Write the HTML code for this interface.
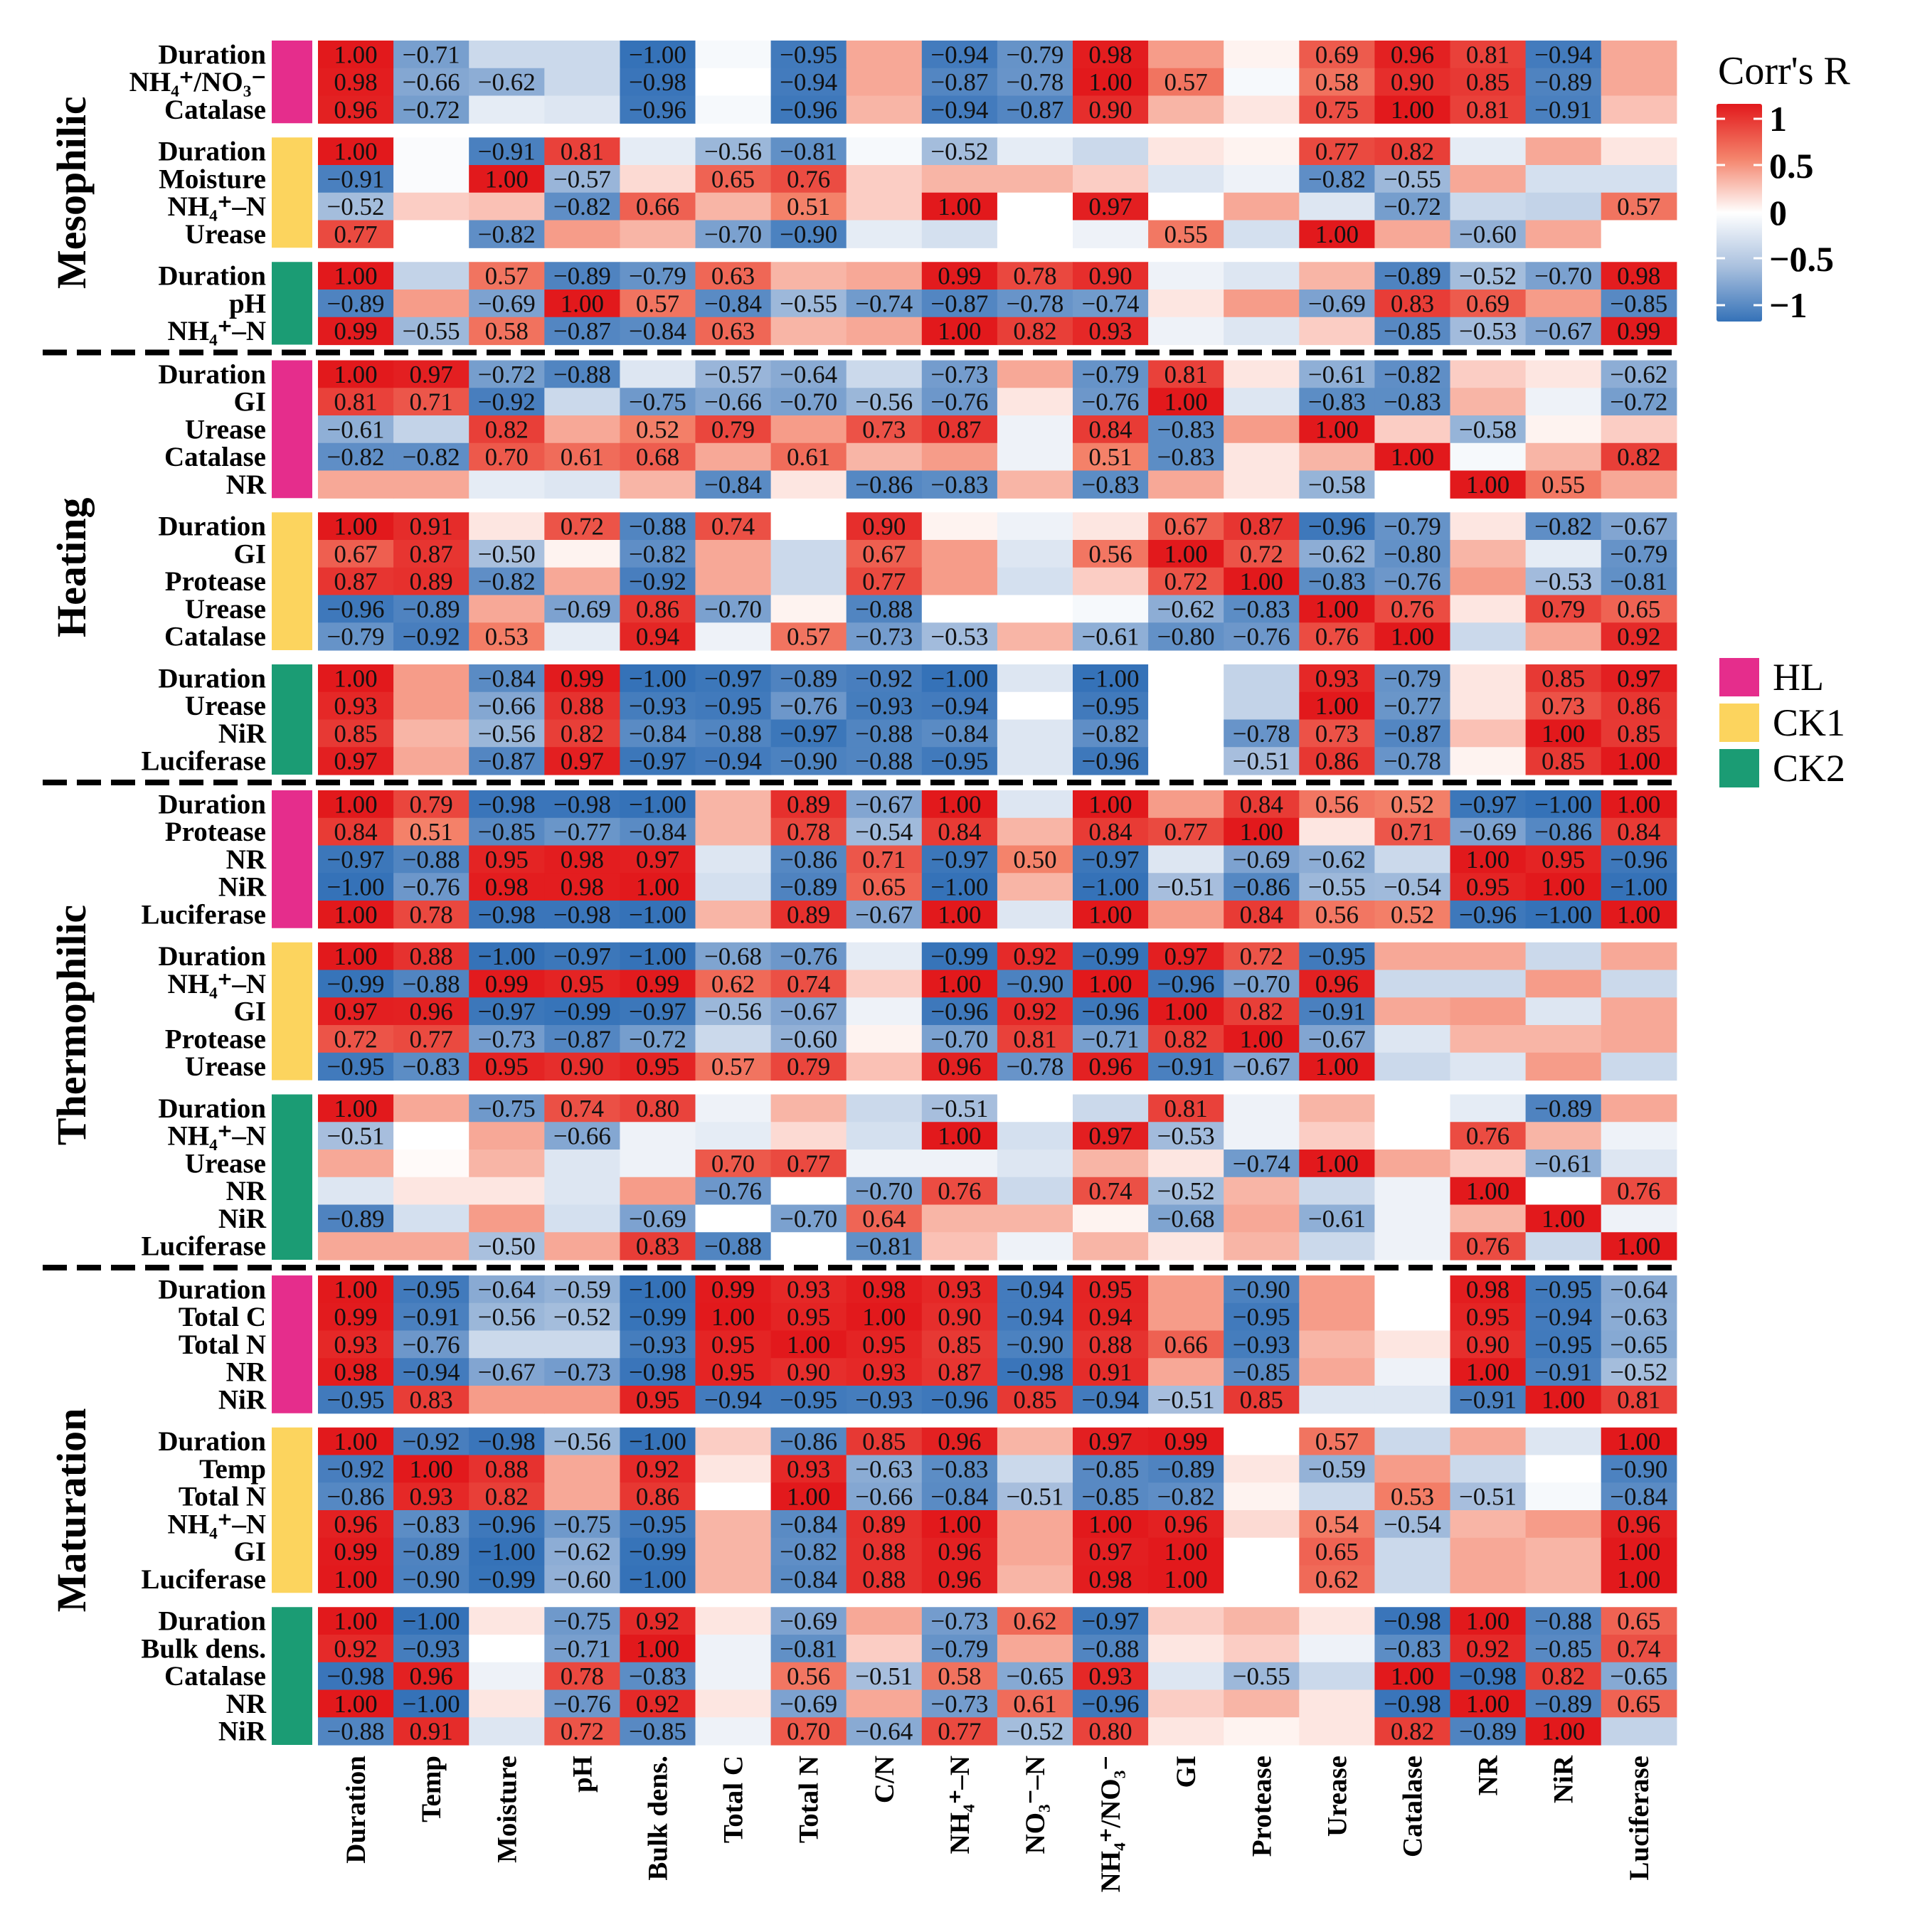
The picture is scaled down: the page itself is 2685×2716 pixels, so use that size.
<!DOCTYPE html>
<html><head><meta charset="utf-8"><style>
html,body{margin:0;padding:0;background:#fff}
svg{display:block;font-family:"Liberation Serif","Times New Roman",serif}
text{font-family:"Liberation Serif","Times New Roman",serif}
</style></head><body>
<svg id="chart" width="2685" height="2716" viewBox="0 0 2685 2716" xmlns="http://www.w3.org/2000/svg" font-family="Liberation Serif, serif">
<defs>
<linearGradient id="cbar" x1="0" y1="0" x2="0" y2="1">
<stop offset="0" stop-color="#e2191c"/>
<stop offset="0.25" stop-color="#f4836b"/>
<stop offset="0.5" stop-color="#ffffff"/>
<stop offset="0.75" stop-color="#a9c0de"/>
<stop offset="1" stop-color="#3572b8"/>
</linearGradient>
</defs>
<g id="cells"></g>
<g id="labels"></g>
<g id="cols"></g>
<g>
<text x="2415" y="118" font-size="56">Corr's R</text>
<rect x="2413" y="146" width="64" height="306" rx="3" fill="url(#cbar)"/>
<g stroke="#fff" stroke-width="3">
<line x1="2413" y1="167" x2="2425" y2="167"/><line x1="2465" y1="167" x2="2477" y2="167"/>
<line x1="2413" y1="232" x2="2425" y2="232"/><line x1="2465" y1="232" x2="2477" y2="232"/>
<line x1="2413" y1="363" x2="2425" y2="363"/><line x1="2465" y1="363" x2="2477" y2="363"/>
<line x1="2413" y1="429" x2="2425" y2="429"/><line x1="2465" y1="429" x2="2477" y2="429"/>
</g>
<g font-size="50" font-weight="bold">
<text x="2487" y="184">1</text>
<text x="2487" y="250">0.5</text>
<text x="2487" y="316">0</text>
<text x="2487" y="381">−0.5</text>
<text x="2487" y="446">−1</text>
</g>
</g>
<g font-size="54">
<rect x="2417" y="925" width="56" height="54" fill="#e52d8c"/>
<text x="2492" y="970">HL</text>
<rect x="2417" y="989" width="56" height="54" fill="#fcd45e"/>
<text x="2492" y="1034">CK1</text>
<rect x="2417" y="1053" width="56" height="54" fill="#1b9c74"/>
<text x="2492" y="1098">CK2</text>
</g>
</svg>
<script>
const columns=["Duration","Temp","Moisture","pH","Bulk dens.","Total C","Total N","C/N","NH₄⁺–N","NO₃⁻–N","NH₄⁺/NO₃⁻","GI","Protease","Urease","Catalase","NR","NiR","Luciferase"];
const phases=["Mesophilic","Heating","Thermophilic","Maturation"];
const treatments=["HL","CK1","CK2"];
const treatmentColors={HL:"#e52d8c",CK1:"#fcd45e",CK2:"#1b9c74"};

const mesoHLRows=["Duration","NH₄⁺/NO₃⁻","Catalase"];
const mesoHL=[
[1.00,-0.71,-0.30,-0.30,-1.00,-0.05,-0.95,0.35,-0.94,-0.79,0.98,0.40,0.05,0.69,0.96,0.81,-0.94,0.35],
[0.98,-0.66,-0.62,-0.30,-0.98,0.00,-0.94,0.35,-0.87,-0.78,1.00,0.57,-0.05,0.58,0.90,0.85,-0.89,0.35],
[0.96,-0.72,-0.15,-0.20,-0.96,-0.05,-0.96,0.30,-0.94,-0.87,0.90,0.30,0.10,0.75,1.00,0.81,-0.91,0.25]];
const mesoCK1Rows=["Duration","Moisture","NH₄⁺–N","Urease"];
const mesoCK1=[
[1.00,-0.03,-0.91,0.81,-0.15,-0.56,-0.81,-0.05,-0.52,-0.15,-0.30,0.10,0.05,0.77,0.82,-0.15,0.35,0.10],
[-0.91,-0.03,1.00,-0.57,0.15,0.65,0.76,0.20,0.30,0.30,0.20,-0.20,-0.10,-0.82,-0.55,0.35,-0.25,-0.25],
[-0.52,0.20,0.25,-0.82,0.66,0.30,0.51,0.20,1.00,0.00,0.97,0.00,0.35,-0.20,-0.72,-0.30,-0.35,0.57],
[0.77,0.00,-0.82,0.40,0.30,-0.70,-0.90,-0.15,-0.25,0.00,-0.10,0.55,-0.25,1.00,0.35,-0.60,0.35,0.00]];
const mesoCK2Rows=["Duration","pH","NH₄⁺–N"];
const mesoCK2=[
[1.00,-0.35,0.57,-0.89,-0.79,0.63,0.30,0.35,0.99,0.78,0.90,-0.10,-0.20,0.30,-0.89,-0.52,-0.70,0.98],
[-0.89,0.40,-0.69,1.00,0.57,-0.84,-0.55,-0.74,-0.87,-0.78,-0.74,0.10,0.40,-0.69,0.83,0.69,0.40,-0.85],
[0.99,-0.55,0.58,-0.87,-0.84,0.63,0.30,0.35,1.00,0.82,0.93,-0.10,-0.20,0.20,-0.85,-0.53,-0.67,0.99]];

const heatHLRows=["Duration","GI","Urease","Catalase","NR"];
const heatHL=[
[1.00,0.97,-0.72,-0.88,-0.20,-0.57,-0.64,-0.30,-0.73,0.35,-0.79,0.81,0.10,-0.61,-0.82,0.20,0.10,-0.62],
[0.81,0.71,-0.92,-0.30,-0.75,-0.66,-0.70,-0.56,-0.76,0.10,-0.76,1.00,-0.20,-0.83,-0.83,0.30,-0.10,-0.72],
[-0.61,-0.35,0.82,0.35,0.52,0.79,0.40,0.73,0.87,-0.10,0.84,-0.83,0.40,1.00,0.20,-0.58,0.05,0.20],
[-0.82,-0.82,0.70,0.61,0.68,0.35,0.61,0.30,0.40,-0.10,0.51,-0.83,0.10,0.30,1.00,-0.05,0.30,0.82],
[0.35,0.35,-0.15,-0.20,0.30,-0.84,0.10,-0.86,-0.83,0.30,-0.83,0.35,0.10,-0.58,0.00,1.00,0.55,0.35]];
const heatCK1Rows=["Duration","GI","Protease","Urease","Catalase"];
const heatCK1=[
[1.00,0.91,0.10,0.72,-0.88,0.74,0.00,0.90,0.05,-0.10,0.10,0.67,0.87,-0.96,-0.79,0.10,-0.82,-0.67],
[0.67,0.87,-0.50,0.05,-0.82,0.35,-0.30,0.67,0.40,-0.20,0.56,1.00,0.72,-0.62,-0.80,0.30,-0.15,-0.79],
[0.87,0.89,-0.82,0.35,-0.92,0.35,-0.30,0.77,0.40,-0.25,0.20,0.72,1.00,-0.83,-0.76,0.40,-0.53,-0.81],
[-0.96,-0.89,0.35,-0.69,0.86,-0.70,0.05,-0.88,0.00,0.00,-0.05,-0.62,-0.83,1.00,0.76,0.10,0.79,0.65],
[-0.79,-0.92,0.53,-0.15,0.94,-0.10,0.57,-0.73,-0.53,0.30,-0.61,-0.80,-0.76,0.76,1.00,-0.30,0.35,0.92]];
const heatCK2Rows=["Duration","Urease","NiR","Luciferase"];
const heatCK2=[
[1.00,0.40,-0.84,0.99,-1.00,-0.97,-0.89,-0.92,-1.00,-0.20,-1.00,0.00,-0.35,0.93,-0.79,0.10,0.85,0.97],
[0.93,0.40,-0.66,0.88,-0.93,-0.95,-0.76,-0.93,-0.94,0.00,-0.95,0.00,-0.35,1.00,-0.77,0.10,0.73,0.86],
[0.85,0.30,-0.56,0.82,-0.84,-0.88,-0.97,-0.88,-0.84,-0.20,-0.82,0.00,-0.78,0.73,-0.87,0.25,1.00,0.85],
[0.97,0.35,-0.87,0.97,-0.97,-0.94,-0.90,-0.88,-0.95,-0.20,-0.96,0.00,-0.51,0.86,-0.78,0.05,0.85,1.00]];

const thermoHLRows=["Duration","Protease","NR","NiR","Luciferase"];
const thermoHL=[
[1.00,0.79,-0.98,-0.98,-1.00,0.30,0.89,-0.67,1.00,-0.20,1.00,0.40,0.84,0.56,0.52,-0.97,-1.00,1.00],
[0.84,0.51,-0.85,-0.77,-0.84,0.30,0.78,-0.54,0.84,0.30,0.84,0.77,1.00,0.10,0.71,-0.69,-0.86,0.84],
[-0.97,-0.88,0.95,0.98,0.97,-0.20,-0.86,0.71,-0.97,0.50,-0.97,-0.20,-0.69,-0.62,-0.30,1.00,0.95,-0.96],
[-1.00,-0.76,0.98,0.98,1.00,-0.25,-0.89,0.65,-1.00,0.30,-1.00,-0.51,-0.86,-0.55,-0.54,0.95,1.00,-1.00],
[1.00,0.78,-0.98,-0.98,-1.00,0.30,0.89,-0.67,1.00,-0.20,1.00,0.40,0.84,0.56,0.52,-0.96,-1.00,1.00]];
const thermoCK1Rows=["Duration","NH₄⁺–N","GI","Protease","Urease"];
const thermoCK1=[
[1.00,0.88,-1.00,-0.97,-1.00,-0.68,-0.76,-0.15,-0.99,0.92,-0.99,0.97,0.72,-0.95,0.35,0.35,-0.30,0.35],
[-0.99,-0.88,0.99,0.95,0.99,0.62,0.74,0.20,1.00,-0.90,1.00,-0.96,-0.70,0.96,-0.30,-0.30,0.40,-0.30],
[0.97,0.96,-0.97,-0.99,-0.97,-0.56,-0.67,-0.10,-0.96,0.92,-0.96,1.00,0.82,-0.91,0.35,0.40,-0.20,0.35],
[0.72,0.77,-0.73,-0.87,-0.72,-0.30,-0.60,0.05,-0.70,0.81,-0.71,0.82,1.00,-0.67,-0.20,0.30,0.30,0.35],
[-0.95,-0.83,0.95,0.90,0.95,0.57,0.79,0.25,0.96,-0.78,0.96,-0.91,-0.67,1.00,-0.30,-0.20,0.40,-0.30]];
const thermoCK2Rows=["Duration","NH₄⁺–N","Urease","NR","NiR","Luciferase"];
const thermoCK2=[
[1.00,0.35,-0.75,0.74,0.80,-0.10,0.30,-0.30,-0.51,0.00,-0.30,0.81,-0.10,0.30,0.00,-0.15,-0.89,0.35],
[-0.51,0.00,0.35,-0.66,-0.10,-0.15,0.15,-0.25,1.00,-0.25,0.97,-0.53,-0.10,0.20,0.00,0.76,0.30,-0.10],
[0.35,0.02,0.30,-0.20,-0.10,0.70,0.77,-0.10,-0.10,-0.20,0.30,0.10,-0.74,1.00,0.35,0.20,-0.61,-0.20],
[-0.20,0.10,0.10,-0.20,0.40,-0.76,0.00,-0.70,0.76,-0.30,0.74,-0.52,0.30,-0.30,-0.10,1.00,0.00,0.76],
[-0.89,-0.25,0.40,-0.25,-0.69,0.00,-0.70,0.64,0.30,0.30,0.05,-0.68,0.35,-0.61,-0.10,0.30,1.00,-0.10],
[0.35,0.35,-0.50,0.35,0.83,-0.88,0.00,-0.81,0.25,-0.10,0.30,0.10,0.30,-0.30,-0.10,0.76,-0.30,1.00]];

const matHLRows=["Duration","Total C","Total N","NR","NiR"];
const matHL=[
[1.00,-0.95,-0.64,-0.59,-1.00,0.99,0.93,0.98,0.93,-0.94,0.95,0.40,-0.90,0.40,0.00,0.98,-0.95,-0.64],
[0.99,-0.91,-0.56,-0.52,-0.99,1.00,0.95,1.00,0.90,-0.94,0.94,0.40,-0.95,0.40,0.00,0.95,-0.94,-0.63],
[0.93,-0.76,-0.30,-0.30,-0.93,0.95,1.00,0.95,0.85,-0.90,0.88,0.66,-0.93,0.30,0.10,0.90,-0.95,-0.65],
[0.98,-0.94,-0.67,-0.73,-0.98,0.95,0.90,0.93,0.87,-0.98,0.91,0.35,-0.85,0.35,-0.10,1.00,-0.91,-0.52],
[-0.95,0.83,0.40,0.40,0.95,-0.94,-0.95,-0.93,-0.96,0.85,-0.94,-0.51,0.85,-0.20,-0.20,-0.91,1.00,0.81]];
const matCK1Rows=["Duration","Temp","Total N","NH₄⁺–N","GI","Luciferase"];
const matCK1=[
[1.00,-0.92,-0.98,-0.56,-1.00,0.20,-0.86,0.85,0.96,0.30,0.97,0.99,0.00,0.57,-0.30,0.35,-0.20,1.00],
[-0.92,1.00,0.88,0.35,0.92,0.10,0.93,-0.63,-0.83,-0.30,-0.85,-0.89,0.10,-0.59,0.40,-0.30,0.00,-0.90],
[-0.86,0.93,0.82,0.35,0.86,0.00,1.00,-0.66,-0.84,-0.51,-0.85,-0.82,0.05,-0.30,0.53,-0.51,-0.05,-0.84],
[0.96,-0.83,-0.96,-0.75,-0.95,0.30,-0.84,0.89,1.00,0.35,1.00,0.96,0.15,0.54,-0.54,0.30,0.40,0.96],
[0.99,-0.89,-1.00,-0.62,-0.99,0.30,-0.82,0.88,0.96,0.35,0.97,1.00,0.00,0.65,-0.30,0.35,0.30,1.00],
[1.00,-0.90,-0.99,-0.60,-1.00,0.30,-0.84,0.88,0.96,0.30,0.98,1.00,0.00,0.62,-0.30,0.35,0.30,1.00]];
const matCK2Rows=["Duration","Bulk dens.","Catalase","NR","NiR"];
const matCK2=[
[1.00,-1.00,0.10,-0.75,0.92,0.10,-0.69,0.35,-0.73,0.62,-0.97,0.20,0.30,0.10,-0.98,1.00,-0.88,0.65],
[0.92,-0.93,0.00,-0.71,1.00,-0.10,-0.81,0.20,-0.79,0.35,-0.88,0.10,0.20,-0.10,-0.83,0.92,-0.85,0.74],
[-0.98,0.96,-0.10,0.78,-0.83,-0.10,0.56,-0.51,0.58,-0.65,0.93,-0.20,-0.55,-0.30,1.00,-0.98,0.82,-0.65],
[1.00,-1.00,0.10,-0.76,0.92,0.10,-0.69,0.35,-0.73,0.61,-0.96,0.20,0.30,0.10,-0.98,1.00,-0.89,0.65],
[-0.88,0.91,-0.20,0.72,-0.85,-0.10,0.70,-0.64,0.77,-0.52,0.80,0.10,0.05,0.10,0.82,-0.89,1.00,-0.35]];

const blocks=[
 [[mesoHLRows,mesoHL],[mesoCK1Rows,mesoCK1],[mesoCK2Rows,mesoCK2]],
 [[heatHLRows,heatHL],[heatCK1Rows,heatCK1],[heatCK2Rows,heatCK2]],
 [[thermoHLRows,thermoHL],[thermoCK1Rows,thermoCK1],[thermoCK2Rows,thermoCK2]],
 [[matHLRows,matHL],[matCK1Rows,matCK1],[matCK2Rows,matCK2]]];

const NS="http://www.w3.org/2000/svg";
const FONT='"Liberation Serif","Times New Roman",serif';
const X0=447, CW=106.1, RH=38.75, TOP=57, GGAP=20, PGAP=22;
function xPos(i){return X0+i*CW;}
const stops=[[-1,[53,114,184]],[-0.5,[169,192,222]],[0,[255,255,255]],[0.5,[244,131,107]],[1,[226,25,28]]];
function color(v){
 for(let i=0;i<stops.length-1;i++){const a=stops[i],b=stops[i+1];
  if(v<=b[0]){const t=(v-a[0])/(b[0]-a[0]);const c=a[1].map((x,k)=>Math.round(x+(b[1][k]-x)*t));return `rgb(${c})`;}}
 return "rgb(226,25,28)";
}
function mk(tag,attrs,parent){const e=document.createElementNS(NS,tag);for(const k in attrs)e.setAttribute(k,attrs[k]);if(tag==="text")e.style.fontFamily=FONT;parent.appendChild(e);return e;}
const gCells=document.getElementById("cells"), gLab=document.getElementById("labels"), gCols=document.getElementById("cols");
let y=TOP;
blocks.forEach((phase,p)=>{
 const pStart=y;
 phase.forEach((blk,t)=>{
  const [rows,vals]=blk; const gStart=y;
  const bar=mk("rect",{x:382,y:gStart,width:57,height:rows.length*RH,fill:treatmentColors[treatments[t]]},gLab);
  
  
  rows.forEach((r,ri)=>{
   const ry=y+ri*RH;
   const lt=mk("text",{x:374,y:ry+RH/2+13,"text-anchor":"end","font-size":39,"font-weight":"bold"},gLab);
   lt.textContent=r;
   
   
   vals[ri].forEach((v,ci)=>{
    const rc=mk("rect",{x:xPos(ci),y:ry,width:CW+0.6,height:RH+0.6,fill:color(v)},gCells);
    
    
    if(Math.abs(v)>=0.5){
     const tx=mk("text",{x:xPos(ci)+CW/2,y:ry+RH/2+12,"text-anchor":"middle","font-size":35,fill:"#111"},gCells);
     tx.textContent=(v<0?"−":"")+Math.abs(v).toFixed(2);
     
     
    }
   });
  });
  y+=rows.length*RH;
  if(t<2)y+=GGAP;
 });
 const pEnd=y;
 const pl=mk("text",{x:0,y:0,transform:`translate(120,${(pStart+pEnd)/2}) rotate(-90)`,"text-anchor":"middle","font-size":58,"font-weight":"bold"},gLab);
 pl.textContent=phases[p];
 
 
 if(p<3){
  const dl=mk("line",{x1:60,x2:2357,y1:y+PGAP/2,y2:y+PGAP/2,stroke:"#000","stroke-width":8,"stroke-dasharray":"34 14"},gLab);
  
  
  y+=PGAP;
 }
});
columns.forEach((c,i)=>{
 const cx=xPos(i)+CW/2+13;
 const t=mk("text",{x:0,y:0,transform:`translate(${cx},2468) rotate(-90)`,"text-anchor":"end","font-size":39,"font-weight":"bold"},gCols);
 t.textContent=c;
 
 
});
</script>
</body></html>
